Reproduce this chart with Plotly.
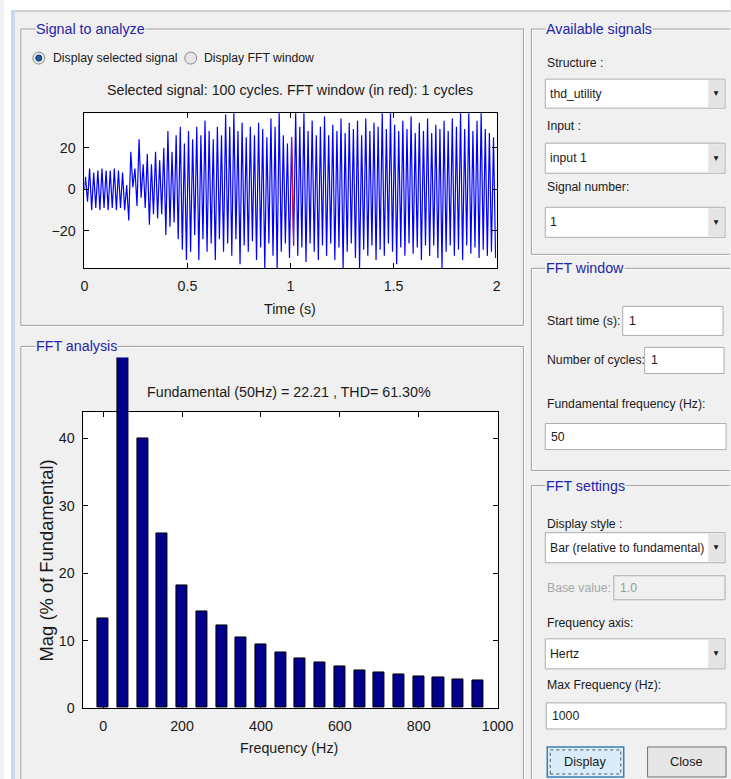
import plotly.graph_objects as go

W, H = 731, 779          # reference pixel space used for all positions
FIG_W, FIG_H = 746, 788  # page area the photograph maps onto 731x779
FS = 1.02                # font compensation for that mapping

# ---------------- data ----------------
# per-cycle (50 Hz, 20 ms) positive and negative peaks of the selected signal
cycle_max = [
    6, 10, 8, 9, 10, 9, 9, 10, 9, 8,
    2, 18, 10, 24, 12, 17, 12, 18, 14, 20,
    28, 18, 26, 30, 22, 28, 24, 30, 26, 33,
    28, 24, 30, 26, 36, 30, 37, 28, 32, 25,
    30, 26, 32, 29, 25, 34, 30, 37, 26, 22,
    25, 37, 30, 37, 28, 33, 26, 30, 35, 26,
    31, 28, 34, 27, 32, 29, 33, 26, 34, 28,
    32, 30, 37, 29, 37, 31, 28, 33, 29, 35,
    27, 32, 28, 34, 27, 31, 29, 33, 28, 34,
    30, 37, 29, 37, 28, 33, 37, 29, 27, 25,
]
cycle_min = [
    -6, -10, -9, -10, -9, -10, -9, -10, -9, -10,
    -15, 1, -8, -4, -9, -17, -12, -14, -12, -22,
    -18, -16, -24, -29, -34, -30, -22, -34, -24, -30,
    -26, -34, -24, -30, -26, -32, -24, -36, -27, -30,
    -25, -34, -28, -38, -26, -32, -38, -30, -26, -33,
    -27, -32, -28, -35, -26, -30, -34, -27, -32, -26,
    -34, -28, -38, -30, -26, -33, -38, -29, -32, -27,
    -34, -29, -32, -26, -30, -36, -28, -32, -26, -31,
    -28, -34, -27, -32, -27, -33, -38, -30, -27, -32,
    -29, -34, -27, -31, -28, -33, -29, -32, -30, -33,
]
cycle_period = 0.02          # s (50 Hz)
fft_window_cycle = 50        # FFT window starts at 1 s -> cycle index 50

fft_freq = [0, 50, 100, 150, 200, 250, 300, 350, 400, 450,
            500, 550, 600, 650, 700, 750, 800, 850, 900, 950]
fft_mag = [13.3, 100.0, 40.0, 25.9, 18.2, 14.3, 12.2, 10.5, 9.4, 8.3,
           7.4, 6.8, 6.2, 5.55, 5.3, 4.9, 4.65, 4.45, 4.25, 4.05]

time_ticks = [0, 0.5, 1, 1.5, 2]
time_tick_text = ["0", "0.5", "1", "1.5", "2"]
sig_ticks = [-20, 0, 20]
freq_ticks = [0, 200, 400, 600, 800, 1000]
mag_ticks = [0, 10, 20, 30, 40]

# ---------------- build signal polyline from the peaks ----------------
sig_t, sig_y = [0.0], [0.0]
for i, (mx, mn) in enumerate(zip(cycle_max, cycle_min)):
    sig_t += [i * cycle_period + cycle_period / 4, i * cycle_period + 3 * cycle_period / 4]
    sig_y += [mx, mn]
k = 1 + 2 * fft_window_cycle
red_t, red_y = sig_t[k:k + 2], sig_y[k:k + 2]

# ---------------- helpers (pixel -> paper) ----------------
def X(p):
    return min(max(p, 0), W) / W

def Y(p):
    return 1 - min(max(p, 0), H) / H

FONT = "Liberation Sans, Arial, sans-serif"
BG = "#f0f0f0"
TXT = "#1a1a1a"
BLUE_T = "#2424a8"
LBL = 12

shapes, annos = [], []

def rect(x0, y0, x1, y1, fill=None, line="#a0a0a0", lw=1, layer="below"):
    shapes.append(dict(type="rect", xref="paper", yref="paper",
                       x0=X(x0), x1=X(x1), y0=Y(y1), y1=Y(y0),
                       fillcolor=fill if fill else "rgba(0,0,0,0)",
                       line=dict(color=line, width=lw) if lw else dict(width=0),
                       layer=layer))

def hline(x0, x1, y, color, lw=1):
    shapes.append(dict(type="line", xref="paper", yref="paper", x0=X(x0), x1=X(x1),
                       y0=Y(y), y1=Y(y), line=dict(color=color, width=lw), layer="below"))

def vline(x, y0, y1, color, lw=1):
    shapes.append(dict(type="line", xref="paper", yref="paper", x0=X(x), x1=X(x),
                       y0=Y(y0), y1=Y(y1), line=dict(color=color, width=lw), layer="below"))

def text(x, y, s, size=LBL, color=TXT, anchor="left", bg=None, angle=0):
    d = dict(x=X(x), y=Y(y), xref="paper", yref="paper", text=s, showarrow=False,
             xanchor=anchor, yanchor="middle", textangle=angle,
             font=dict(family=FONT, size=size * FS, color=color))
    if bg:
        d["bgcolor"] = bg
        d["borderpad"] = 0
    annos.append(d)

# background: white strip at top/left, light blue window edge
rect(0, 0, W, 10, fill="white", lw=0)
rect(0, 0, 7, H, fill="white", lw=0)
rect(7, 10, 11, H, fill="#c9daee", lw=0)
hline(11, W, 11, "#b0b0b0")

def groupbox(x0, y0, x1, y1, title, right=True, bottom=True):
    for off, col in [(1, "white"), (0, "#a0a0a0")]:
        hline(x0 + off, x1 + off, y0 + off, col)
        vline(x0 + off, y0 + off, y1 + off, col)
        if right:
            vline(x1 + off, y0 + off, y1 + off, col)
        if bottom:
            hline(x0 + off, x1 + off, y1 + off, col)
    text(x0 + 14, y0, title, size=14, color=BLUE_T, bg=BG)

groupbox(17, 29, 523, 325, "Signal to analyze")
groupbox(17, 346, 523, H, "FFT analysis", bottom=False)
groupbox(531, 29, W, 254, "Available signals", right=False)
groupbox(531, 268, W, 470, "FFT window", right=False)
groupbox(531, 485, W, H, "FFT settings", right=False, bottom=False)

# radio buttons
for cx, sel in [(35, True), (188, False)]:
    shapes.append(dict(type="circle", xref="paper", yref="paper",
                       x0=X(cx - 6), x1=X(cx + 6), y0=Y(58 + 6), y1=Y(58 - 6),
                       fillcolor="#e6e6e6", line=dict(color="#8a8a8a", width=1), layer="below"))
    if sel:
        shapes.append(dict(type="circle", xref="paper", yref="paper",
                           x0=X(cx - 3), x1=X(cx + 3), y0=Y(58 + 3), y1=Y(58 - 3),
                           fillcolor="#1f5f9f", line=dict(color="#103060", width=1), layer="below"))
text(47, 58, "Display selected signal", size=12)
text(199, 58, "Display FFT window", size=12)

# signal title
text(288, 90, "Selected signal: 100 cycles. FFT window (in red): 1 cycles", size=14, anchor="center")
text(288, 309, "Time (s)", size=14, anchor="center")

# FFT title and labels
text(287, 391, "Fundamental (50Hz) = 22.21 , THD= 61.30%", size=14, anchor="center")
text(287, 747, "Frequency (Hz)", size=14, anchor="center")
text(43, 560, "Mag (% of Fundamental)", size=18, anchor="center", angle=-90)

# white plot areas
rect(81, 113, 496, 268, fill="white", lw=0)
rect(80, 411.7, 497, 707, fill="white", lw=0)

# right column controls
def dropdown(y0, y1, s):
    rect(545, y0, 726, y1, fill="white", line="#abadb3")
    rect(709, y0 + 1, 725, y1 - 1, fill="#e4e4e4", lw=0)
    text(717, (y0 + y1) / 2, "\u25bc", size=8, anchor="center")
    text(548, (y0 + y1) / 2, s, size=12)

def editbox(x0, y0, x1, y1, s, fill="white", color=TXT):
    rect(x0, y0, x1, y1, fill=fill, line="#abadb3")
    text(x0 + 4, (y0 + y1) / 2, s, size=12, color=color)

text(545, 63, "Structure :")
dropdown(79, 108, "thd_utility")
text(545, 126, "Input :")
dropdown(143, 173, "input 1")
text(545, 187, "Signal number:")
dropdown(207, 237, "1")

text(545, 321, "Start time (s):")
editbox(623, 306, 724, 335, "1")
text(545, 360, "Number of cycles:")
editbox(645, 347, 725, 373, "1")
text(545, 403, "Fundamental frequency (Hz):")
editbox(545, 423, 727, 449, "50")

text(545, 523, "Display style :")
dropdown(532, 562, "Bar (relative to fundamental)")
text(545, 587, "Base value:", color="#a8a8a8")
editbox(614, 575, 726, 599, "1.0", fill="#f0f0f0", color="#9a9a9a")
text(545, 622, "Frequency axis:")
dropdown(638, 668, "Hertz")
text(545, 684, "Max Frequency (Hz):")
editbox(546, 702, 727, 728, "1000")

rect(547, 746, 624, 776, fill="#d9ecf9", line="#3c7fb1", lw=1.5)
shapes.append(dict(type="rect", xref="paper", yref="paper", x0=X(550), x1=X(621),
                   y0=Y(773), y1=Y(749), line=dict(color="#555", width=1, dash="dot"),
                   fillcolor="rgba(0,0,0,0)", layer="below"))
text(585.5, 761, "Display", size=12.5, anchor="center")
rect(648, 746, 727, 776, fill="#e6e6e6", line="#707070", lw=1)
text(687.5, 761, "Close", size=12.5, anchor="center")

# ---------------- traces ----------------
fig = go.Figure()
fig.add_trace(go.Scatter(x=sig_t, y=sig_y, mode="lines", line=dict(color="#0000ff", width=1.2),
                         xaxis="x", yaxis="y", showlegend=False, hoverinfo="skip"))
fig.add_trace(go.Scatter(x=red_t, y=red_y, mode="lines", line=dict(color="#ff0000", width=1.2),
                         xaxis="x", yaxis="y", showlegend=False, hoverinfo="skip"))
fig.add_trace(go.Scatter(x=[], y=[], xaxis="x2", yaxis="y2", showlegend=False))
fig.add_trace(go.Bar(x=fft_freq, y=fft_mag, width=28, xaxis="x3", yaxis="y3",
                     marker=dict(color="#00008c", line=dict(color="black", width=1)),
                     showlegend=False, hoverinfo="skip"))

axis_common = dict(showline=True, linecolor="black", linewidth=1, mirror="ticks",
                   ticks="inside", ticklen=5, tickcolor="black", showgrid=False,
                   zeroline=False, tickfont=dict(family=FONT, size=14 * FS, color=TXT),
                   ticklabelstandoff=5, fixedrange=True)

sig_top = 113
fft_top = 411.7
fft_bottom = 707
mag_top = 43.9
bar_clip_top = 357

fig.update_layout(
    width=FIG_W, height=FIG_H, autosize=False, margin=dict(l=0, r=0, t=0, b=0, pad=0),
    paper_bgcolor=BG, plot_bgcolor="rgba(0,0,0,0)",
    shapes=shapes, annotations=annos, showlegend=False, bargap=0,
    xaxis=dict(domain=[X(81), X(496)], range=[0, 2], tickvals=time_ticks,
               ticktext=time_tick_text, anchor="y", **axis_common),
    yaxis=dict(domain=[Y(268), Y(sig_top)], range=[-38, 36.6], tickvals=sig_ticks,
               anchor="x", **axis_common),
    xaxis2=dict(domain=[X(80), X(497)], range=[-50, 1000], tickvals=freq_ticks,
                anchor="y2", **axis_common),
    yaxis2=dict(domain=[Y(fft_bottom), Y(fft_top)], range=[0, mag_top], tickvals=mag_ticks,
                anchor="x2", **axis_common),
    xaxis3=dict(domain=[X(80), X(497)], range=[-50, 1000], visible=False, anchor="y3",
                fixedrange=True),
    yaxis3=dict(domain=[Y(fft_bottom), Y(bar_clip_top)],
                range=[0, mag_top * (fft_bottom - bar_clip_top) / (fft_bottom - fft_top)],
                visible=False, anchor="x3", fixedrange=True),
)

post = (
    "document.documentElement.style.margin='0px';"
    "document.documentElement.style.overflow='hidden';"
    "document.body.style.margin='0px';"
    "document.body.style.overflow='hidden';"
)
fig.write_html("out.html", config={"displayModeBar": False, "responsive": False},
               post_script=post)
